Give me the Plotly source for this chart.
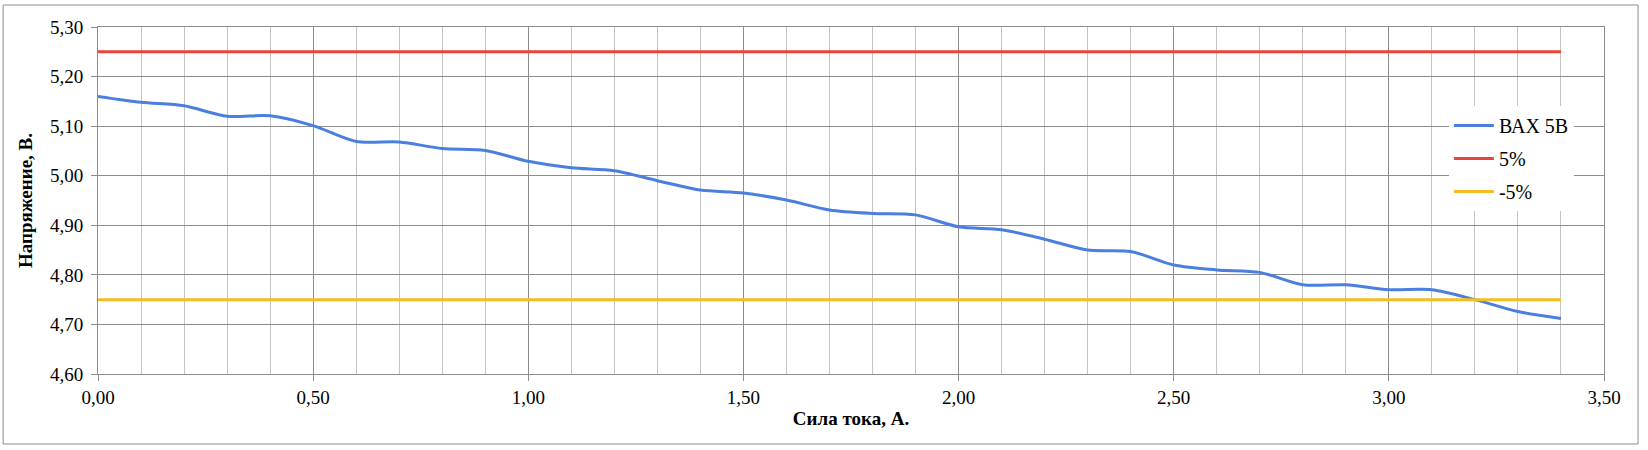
import plotly.graph_objects as go

current_a = [0.0, 0.1, 0.2, 0.3, 0.4, 0.5, 0.6, 0.7, 0.8, 0.9, 1.0, 1.1, 1.2, 1.3, 1.4, 1.5, 1.6,
             1.7, 1.8, 1.9, 2.0, 2.1, 2.2, 2.3, 2.4, 2.5, 2.6, 2.7, 2.8, 2.9, 3.0, 3.1, 3.2, 3.3, 3.4]
vax_5b = [5.160, 5.148, 5.141, 5.120, 5.121, 5.101, 5.069, 5.068, 5.055, 5.051, 5.029, 5.016, 5.010,
          4.990, 4.971, 4.965, 4.951, 4.931, 4.924, 4.921, 4.897, 4.891, 4.872, 4.850, 4.847, 4.820,
          4.810, 4.805, 4.780, 4.780, 4.770, 4.770, 4.750, 4.726, 4.712]
upper_5 = [5.25] * len(current_a)
lower_5 = [4.75] * len(current_a)

series_names = ["ВАХ 5В", "5%", "-5%"]
x_title = "Сила тока, А."
y_title = "Напряжение, В."

FONT = "Liberation Serif"
GRID = "#8C8C8C"
MINOR = "#C4C4C4"

fig = go.Figure()
fig.add_trace(go.Scatter(x=current_a, y=vax_5b, mode="lines", name=series_names[0], legendgroup="a",
                         line=dict(color="#4A7FE0", width=3, shape="spline", smoothing=0.8)))
fig.add_trace(go.Scatter(x=current_a, y=upper_5, mode="lines", name=series_names[1], legendgroup="b",
                         line=dict(color="#E8443A", width=3)))
fig.add_trace(go.Scatter(x=current_a, y=lower_5, mode="lines", name=series_names[2], legendgroup="c",
                         line=dict(color="#F5BD1F", width=3)))

fig.update_layout(
    width=1648, height=450,
    margin=dict(l=98, r=44, t=27, b=76, autoexpand=False),
    paper_bgcolor="white", plot_bgcolor="white",
    separators=", ",
    font=dict(family=FONT, size=19, color="black"),
    showlegend=True,
    legend=dict(x=0.897, y=0.772, xanchor="left", yanchor="top",
                bgcolor="white", borderwidth=0, font=dict(size=20, family=FONT),
                tracegroupgap=4, itemwidth=40),
    xaxis=dict(range=[0, 3.5], dtick=0.5, tick0=0, tickformat=".2f",
               showgrid=True, gridcolor=GRID, gridwidth=1,
               minor=dict(dtick=0.1, showgrid=True, gridcolor=MINOR, gridwidth=1),
               showline=True, linecolor=GRID, linewidth=1, mirror=True,
               ticks="outside", ticklen=6, tickcolor=GRID, zeroline=False,
               tickfont=dict(family=FONT, size=19),
               title=dict(text="<b>" + x_title + "</b>", font=dict(size=19, family=FONT), standoff=4)),
    yaxis=dict(range=[4.6, 5.3], dtick=0.1, tick0=4.6, tickformat=".2f",
               showgrid=True, gridcolor=GRID, gridwidth=1,
               showline=True, linecolor=GRID, linewidth=1, mirror=True,
               ticks="outside", ticklen=6, tickcolor=GRID, zeroline=False,
               ticklabelstandoff=4,
               tickfont=dict(family=FONT, size=19),
               title=dict(text="<b>" + y_title + "</b>", font=dict(size=19, family=FONT), standoff=12)),
)

fig.add_shape(type="rect", xref="paper", yref="paper",
              x0=-0.063, x1=1.0226, y0=-0.2017, y1=1.0634,
              line=dict(color="#8C8C8C", width=1), fillcolor="rgba(0,0,0,0)", layer="below")

fig.write_html("out.html", config={"displayModeBar": False},
               post_script="document.body.style.margin='0';document.body.style.overflow='hidden';")
